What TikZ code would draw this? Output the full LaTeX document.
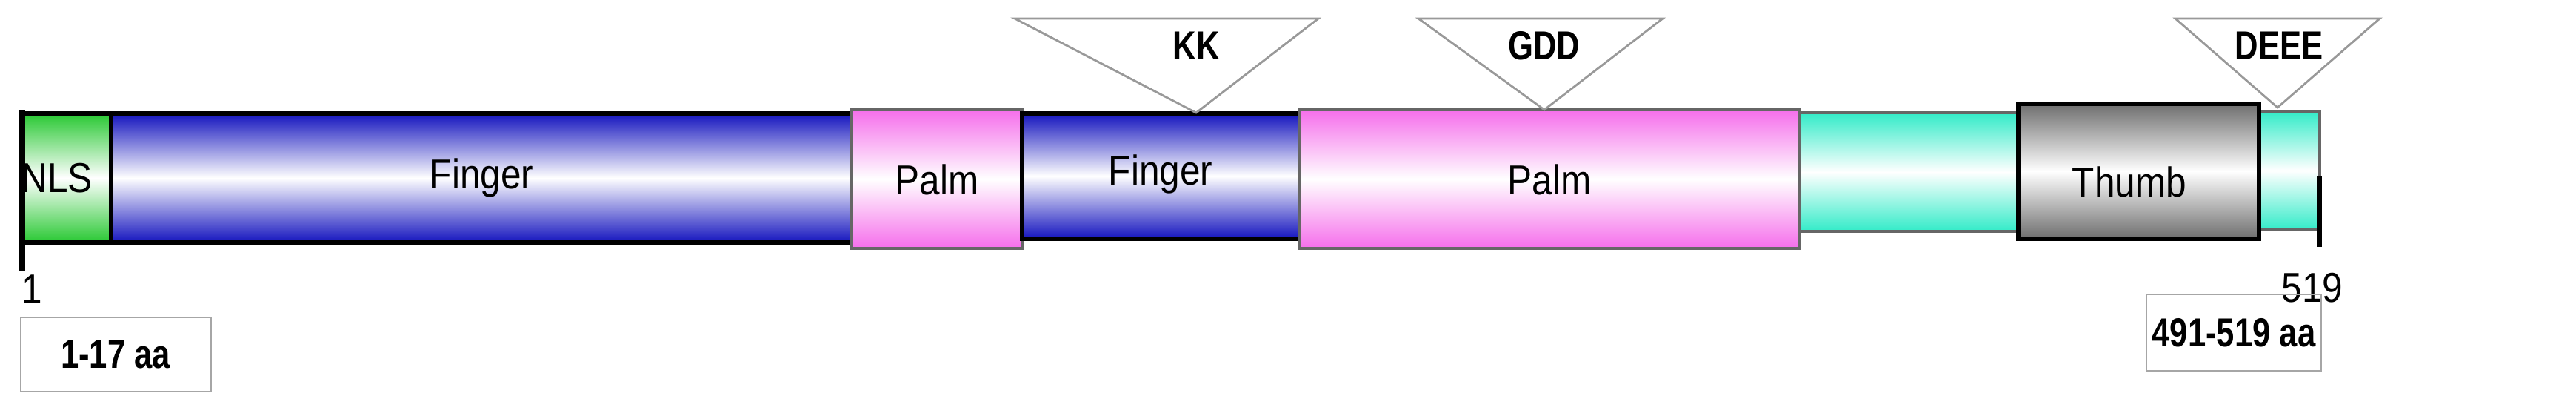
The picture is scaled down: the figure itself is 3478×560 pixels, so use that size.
\documentclass[tikz,border=0pt]{standalone}
\usepackage{fontspec}
\setmainfont{Liberation Sans}
\newfontfamily\narrowf[FakeStretch=0.88]{Liberation Sans}
\newfontfamily\narrowb[FakeStretch=0.8]{Liberation Sans Bold}
\begin{document}
\begin{tikzpicture}[x=0.01cm,y=-0.01cm]
\definecolor{nlsg}{RGB}{40,200,50}
\definecolor{fblue}{RGB}{20,20,190}
\definecolor{ppink}{RGB}{245,110,235}
\definecolor{cyanc}{RGB}{50,235,200}
\definecolor{thgray}{RGB}{110,110,110}
\tikzset{
 grad/.style={top color=#1,bottom color=#1,middle color=white},
 tri/.style={draw=gray!80,line width=0.8pt,fill=white},
 lab/.style={font=\narrowb\fontsize{15.5}{18}\selectfont},
 num/.style={font=\narrowf\fontsize{16}{19}\selectfont}
}
\useasboundingbox (0,0) rectangle (3478,560);
% segments
\path[grad=nlsg,draw=black,line width=1.5pt] (30,153) rectangle (150,327);
\node[num,anchor=west,inner sep=0pt] (nls) at (28,240) {NLS};
\path[grad=fblue,draw=black,line width=1.5pt] (150,153) rectangle (1150,327);
\node[num] (f1) at (650,240) {Finger};
\path[grad=ppink,draw=black!60,line width=1.2pt] (1150,148) rectangle (1380,335);
\node[num] (p1) at (1265,242) {Palm};
\path[grad=fblue,draw=black,line width=1.5pt] (1380,153) rectangle (1755,322);
\node[num] (f2) at (1567,235) {Finger};
\path[grad=ppink,draw=black!60,line width=1.2pt] (1755,148) rectangle (2430,335);
\node[num] (p2) at (2092,242) {Palm};
\path[grad=cyanc,draw=black!60,line width=1.2pt] (2430,152) rectangle (2730,312);
\path[grad=cyanc,draw=black!60,line width=1.2pt] (3045,150) rectangle (3132,310);
\path[grad=thgray,draw=black,line width=1.8pt] (2725,140) rectangle (3050,322);
\node[num] (th) at (2875,245) {Thumb};
% ticks
\coordinate (t1a) at (30,148); \coordinate (t1b) at (30,365);
\draw[line width=2.5pt] (t1a) -- (t1b);
\coordinate (t2a) at (3131,237); \coordinate (t2b) at (3131,333);
\draw[line width=2pt] (t2a) -- (t2b);
\node[num] (n1) at (43,390) {1};
\node[num] (n519) at (3122,388) {519};
% boxes
\draw[gray!70,line width=0.8pt] (28,428) rectangle (285,528);
\node[lab] (b1) at (156,478) {1-17 aa};
\draw[gray!70,line width=0.8pt] (2898,397) rectangle (3134,500);
\node[lab] (b2) at (3016,449) {491-519 aa};
% triangles
\draw[tri] (1370,25) -- (1780,25) -- (1615,152) -- cycle;
\node[lab] (kk) at (1615,62) {KK};
\draw[tri] (1915,25) -- (2245,25) -- (2085,148) -- cycle;
\node[lab] (gdd) at (2085,62) {GDD};
\draw[tri] (2937,25) -- (3213,25) -- (3075,145) -- cycle;
\node[lab] (deee) at (3077,62) {DEEE};
\end{tikzpicture}
\end{document}
